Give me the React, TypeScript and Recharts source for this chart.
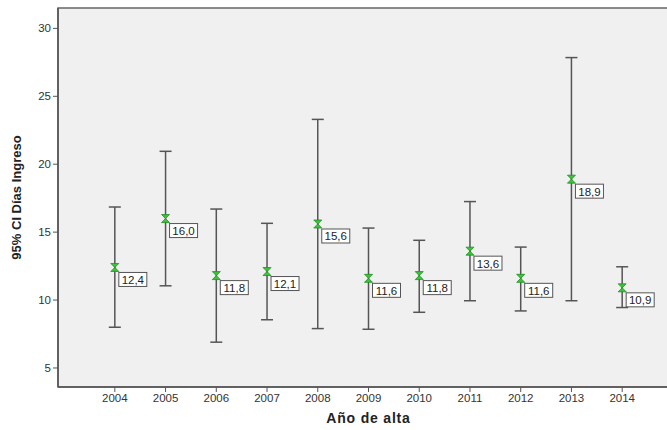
import { ErrorBar, ReferenceArea, Scatter, ScatterChart, XAxis, YAxis } from "recharts";

const years = [2004, 2005, 2006, 2007, 2008, 2009, 2010, 2011, 2012, 2013, 2014];
const means = [12.4, 16.0, 11.8, 12.1, 15.6, 11.6, 11.8, 13.6, 11.6, 18.9, 10.9];
const lowers = [8.0, 11.05, 6.9, 8.55, 7.9, 7.85, 9.1, 9.95, 9.2, 9.95, 9.45];
const uppers = [16.85, 20.95, 16.7, 15.65, 23.3, 15.3, 14.4, 17.25, 13.9, 27.85, 12.45];
const yTicks = [5, 10, 15, 20, 25, 30];

const data = years.map((year, i) => ({
    year,
    mean: means[i],
    err: [means[i] - lowers[i], uppers[i] - means[i]],
}));

const X_DOMAIN = [2002.88, 2015.12];
const Y_DOMAIN = [3.6, 31.5];
const FONT = "'Liberation Sans', Arial, sans-serif";

const Marker = (props: any) => {
    const { cx, cy, payload } = props;
    const s = 4;
    const label = payload.mean.toFixed(1).replace(".", ",");
    return <g>
        <path
            d={`M${cx - s},${cy - s} L${cx + s},${cy - s} L${cx - s},${cy + s} L${cx + s},${cy + s} Z`}
            fill="#3cc43c" stroke="#1f8f1f" strokeWidth={0.8}
        />
        <rect x={cx + 4} y={cy + 5} width={28} height={14} fill="#fff" stroke="#555" strokeWidth={1} />
        <text x={cx + 18} y={cy + 16.5} textAnchor="middle" fontSize={11.5} fill="#222" fontFamily={FONT}>{label}</text>
    </g>
}

const App = () => {
    return <div style={{ position: "fixed", left: 0, top: 0, width: 667, height: 430, overflow: "hidden", background: "#fff" }}>
        <ScatterChart width={690} height={430} margin={{ top: 8, right: 11, left: 0, bottom: 0 }}>
            <ReferenceArea
                x1={X_DOMAIN[0]} x2={X_DOMAIN[1]} y1={Y_DOMAIN[0]} y2={Y_DOMAIN[1]}
                fill="#f0f0f0" fillOpacity={1} stroke="#666" strokeWidth={1.5} ifOverflow="visible"
            />
            <XAxis
                type="number" dataKey="year" domain={X_DOMAIN} ticks={years} height={43}
                allowDataOverflow interval={0}
                tick={{ fontSize: 11.5, fill: "#333", fontFamily: FONT }}
                tickLine={{ stroke: "#555" }} axisLine={{ stroke: "#555", strokeWidth: 1.5 }} tickSize={5}
                label={{ value: "Año de alta", position: "insideBottom", offset: 7, fontSize: 14, fontWeight: "bold", fill: "#222", fontFamily: FONT, letterSpacing: 0.8 }}
            />
            <YAxis
                type="number" dataKey="mean" domain={Y_DOMAIN} ticks={yTicks} width={58}
                allowDataOverflow
                tick={{ fontSize: 11.5, fill: "#333", fontFamily: FONT }}
                tickLine={{ stroke: "#555" }} axisLine={{ stroke: "#555", strokeWidth: 1.5 }} tickSize={5}
                label={{ value: "95% CI Días Ingreso", angle: -90, position: "insideLeft", offset: 16, style: { textAnchor: "middle" }, fontSize: 13, fontWeight: "bold", fill: "#222", fontFamily: FONT }}
            />
            <Scatter data={data} isAnimationActive={false} shape={<Marker />}>
                <ErrorBar dataKey="err" direction="y" width={6} stroke="#555" strokeWidth={1.5} isAnimationActive={false} />
            </Scatter>
        </ScatterChart>
    </div>
}

export default App;
